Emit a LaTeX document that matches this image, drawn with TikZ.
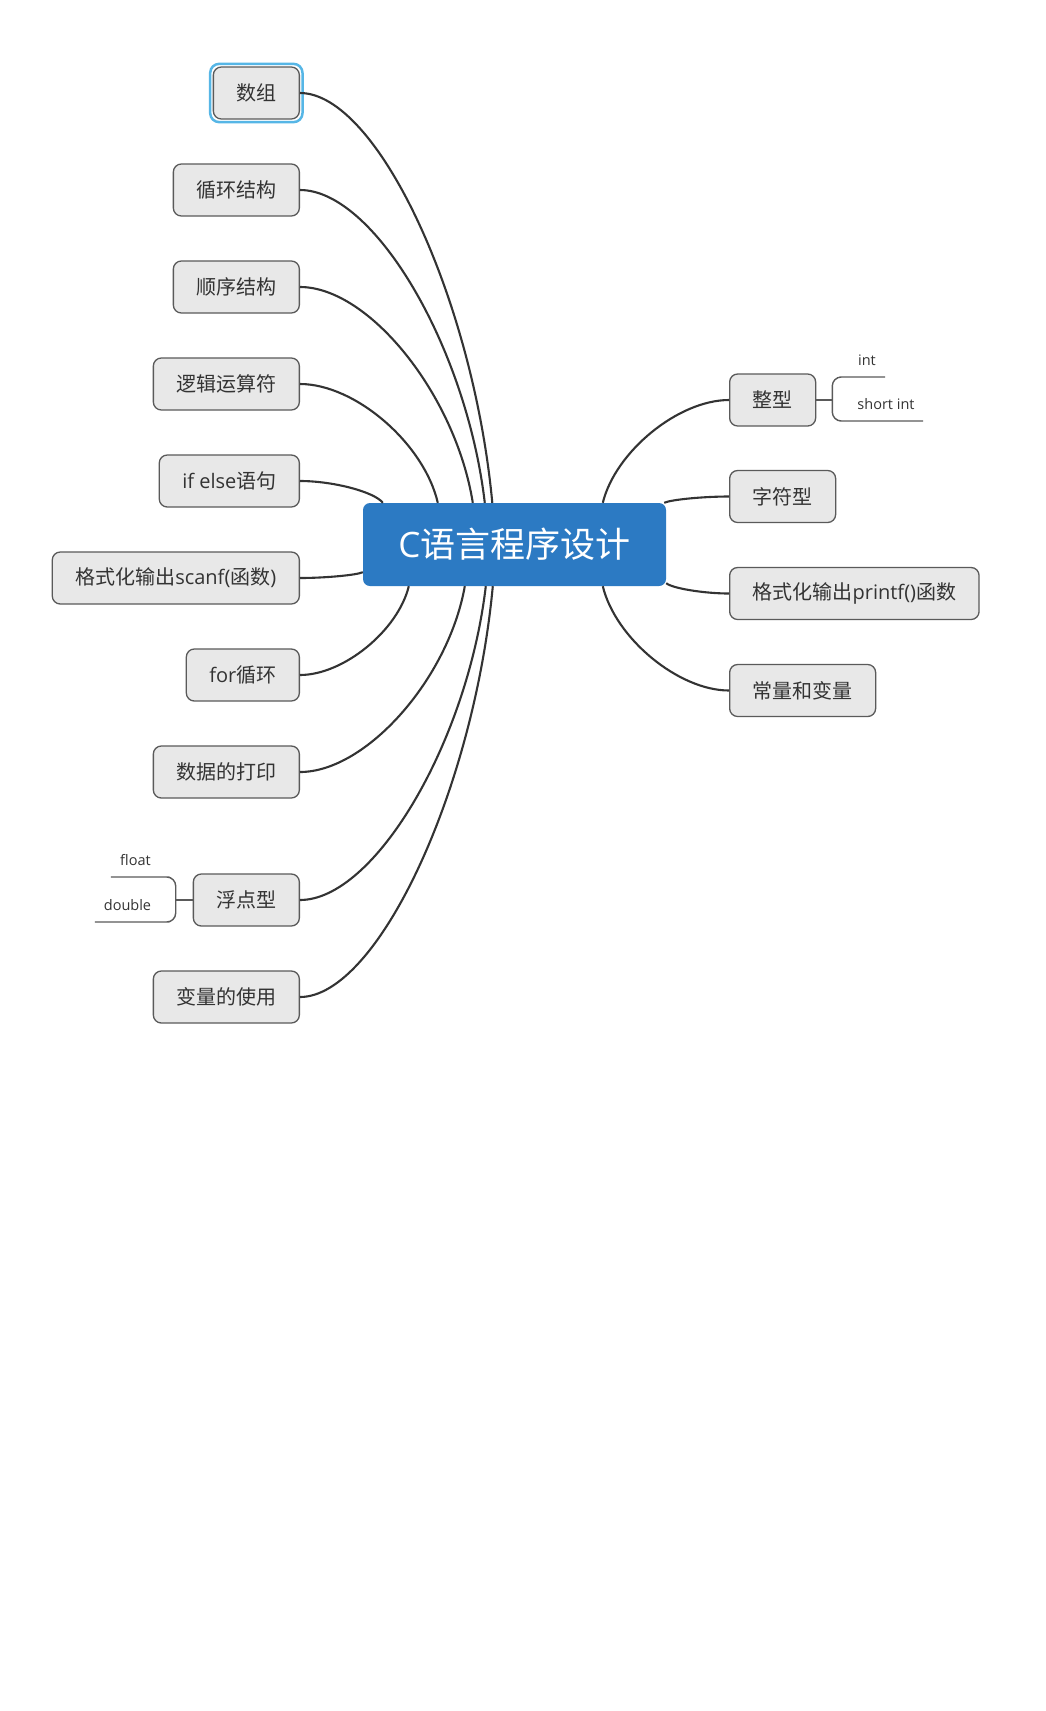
\documentclass[tikz,border=0pt]{standalone}
\usepackage{fontspec}
\setmainfont{Open Sans}
\newfontfamily\cjk{Noto Sans CJK SC}
\usepackage{tikz}
\usetikzlibrary{calc}
\definecolor{nodegrey}{HTML}{E8E8E8}
\definecolor{edgegrey}{HTML}{5A5A5A}
\definecolor{txtgrey}{HTML}{333333}
\definecolor{rootblue}{HTML}{2C7AC3}
\definecolor{selblue}{HTML}{56B6E6}
\newcommand{\zh}[1]{{\cjk #1}}

\tikzset{
  topic/.style={draw=edgegrey,fill=nodegrey,line width=1.3pt,rounded corners=8pt,
    minimum height=52pt,inner xsep=23pt,inner ysep=0pt,text=txtgrey,
    font=\fontsize{20}{24}\selectfont},
  root/.style={fill=rootblue,rounded corners=7pt,minimum width=303pt,minimum height=83pt,
    text=white,font=\fontsize{35}{40}\selectfont},
  sub/.style={text=txtgrey,font=\fontsize{14.5}{16}\selectfont,inner sep=0pt,
    text depth=11pt,anchor=south},
  link/.style={draw=txtgrey,line width=2.1pt},
  brk/.style={draw=edgegrey,line width=1.4pt,rounded corners=9pt},
  sel/.style={draw=selblue,line width=2.5pt,rounded corners=9pt},
  branch/.style={to path={let \p1=(\tikztostart), \p2=(\tikztotarget),
    \p3=({0.6*(\x1)+0.4*(\x2)},{\y1}), \p4=({0.9*(\x2)+0.1*(\x1)},{0.5*(\y1)+0.5*(\y2)}) in
    .. controls (\p3) and (\p4) .. (\tikztotarget)}}
}

\begin{document}
\begin{tikzpicture}[x=1pt,y=-1pt,line join=round]
  \fill[white] (0,0) rectangle (1045,1711);
  \useasboundingbox (0,0) rectangle (1045,1711);
  % centre
  \node[root] (c) at (514.5,544.5) {C\zh{语言程序设计}};
  % branches gauches
  \node[topic,anchor=east] (sz) at (300,93) {\zh{数组}};
  \node[topic,anchor=east] (xh) at (300,190) {\zh{循环结构}};
  \node[topic,anchor=east] (sx) at (300,287) {\zh{顺序结构}};
  \node[topic,anchor=east] (lj) at (300,384) {\zh{逻辑运算符}};
  \node[topic,anchor=east] (ie) at (300,481) {if else\zh{语句}};
  \node[topic,anchor=east] (sc) at (300,578) {\zh{格式化输出}scanf(\zh{函数})};
  \node[topic,anchor=east] (fr) at (300,675) {for\zh{循环}};
  \node[topic,anchor=east] (dy) at (300,772) {\zh{数据的打印}};
  \node[topic,anchor=east] (fd) at (300,900) {\zh{浮点型}};
  \node[topic,anchor=east] (bl) at (300,997) {\zh{变量的使用}};
  % branches droites
  \node[topic,anchor=west] (zx) at (729,400) {\zh{整型}};
  \node[topic,anchor=west] (zf) at (729,496.5) {\zh{字符型}};
  \node[topic,anchor=west] (pf) at (729,593.5) {\zh{格式化输出}printf()\zh{函数}};
  \node[topic,anchor=west] (cl) at (729,690.5) {\zh{常量和变量}};
  % selection
  \draw[sel] ([xshift=-2.5pt,yshift=2.5pt]sz.north west) rectangle ([xshift=2.5pt,yshift=-2.5pt]sz.south east);
  % points d'attache
  \coordinate (t1) at ([xshift=129.5pt]c.north west);
  \coordinate (t2) at ([xshift=122pt]c.north west);
  \coordinate (t3) at ([xshift=110pt]c.north west);
  \coordinate (t4) at ([xshift=75pt]c.north west);
  \coordinate (t5) at ([xshift=20pt]c.north west);
  \coordinate (t6) at ([xshift=240pt]c.north west);
  \coordinate (t7) at ([xshift=-2pt]c.north east);
  \coordinate (b1) at ([yshift=14pt]c.south west);
  \coordinate (b2) at ([xshift=46pt]c.south west);
  \coordinate (b3) at ([xshift=102pt]c.south west);
  \coordinate (b4) at ([xshift=123pt]c.south west);
  \coordinate (b5) at ([xshift=130pt]c.south west);
  \coordinate (b6) at ([xshift=240pt]c.south west);
  \coordinate (b7) at ([yshift=3pt]c.south east);
  % liens
  \foreach \a/\b in {sz/t1,xh/t2,sx/t3,lj/t4,ie/t5,sc/b1,fr/b2,dy/b3,fd/b4,bl/b5}
    \draw[link] (\a.east) to[branch] (\b);
  \foreach \a/\b in {zx/t6,zf/t7,pf/b7,cl/b6}
    \draw[link] (\a.west) to[branch] (\b);
  % sous-branches
  \coordinate (zj) at ([xshift=16pt]zx.east);
  \node[sub,minimum width=36pt] (int) at (867,377) {int};
  \node[sub,minimum width=74pt] (sint) at (886,421) {short int};
  \draw[brk] (zx.east) -- (zj);
  \draw[brk] (int.south east) -- (int.south west) -| (zj) |- (sint.south west) -- (sint.south east);
  \coordinate (fj) at ([xshift=-17pt]fd.west);
  \node[sub,minimum width=49pt] (flt) at (135.5,877) {float};
  \node[sub,minimum width=65pt] (dbl) at (127.5,922) {double};
  \draw[brk] (fd.west) -- (fj);
  \draw[brk] (flt.south west) -- (flt.south east) -| (fj) |- (dbl.south east) -- (dbl.south west);
\end{tikzpicture}
\end{document}
